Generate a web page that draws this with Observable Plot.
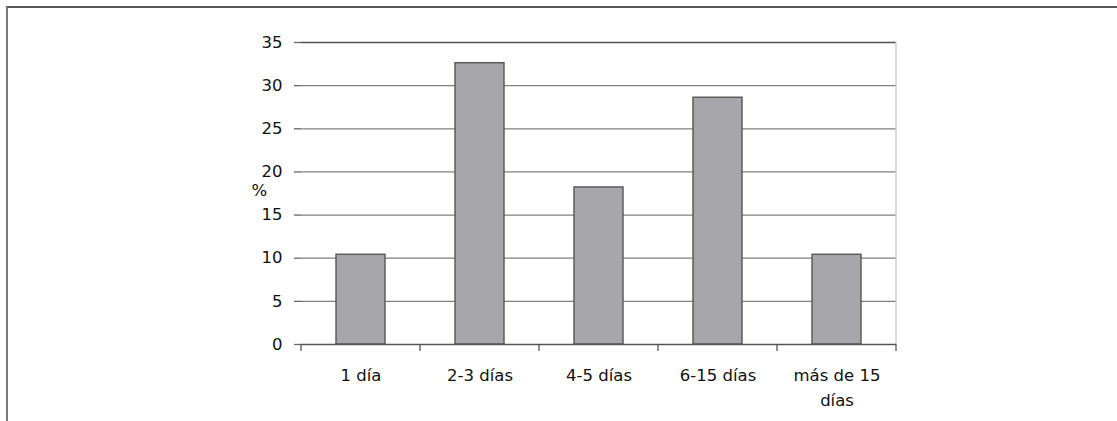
<!DOCTYPE html>
<html>
<head>
<meta charset="utf-8">
<script src="https://cdn.jsdelivr.net/npm/d3@7"></script>
<script src="https://cdn.jsdelivr.net/npm/@observablehq/plot@0.6"></script>
<style>
  html, body { margin: 0; padding: 0; background: #fff; }
  #wrap { position: relative; width: 1117px; height: 421px; overflow: hidden; }
  #border { position: absolute; left: 6px; top: 6px; width: 1120px; height: 430px;
            border-left: 2px solid #7a7a7a; border-top: 2px solid #5a5a5a; pointer-events: none; }
</style>
</head>
<body>
<div id="wrap"><div id="border"></div></div>
<script>
const categories = ["1 día", "2-3 días", "4-5 días", "6-15 días", "más de 15\ndías"];
const percents = [10.4, 32.6, 18.2, 28.6, 10.4];
const yTicks = [0, 5, 10, 15, 20, 25, 30, 35];
const yLabel = "%";

const data = categories.map((c, i) => ({cat: c, value: percents[i]}));
const font = "DejaVu Sans, Liberation Sans, Arial, sans-serif";

const boundaries = (index, scales) => {
  const x = scales.x, y = scales.y;
  const step = x.step(), off = (x.bandwidth() - step) / 2;
  const edges = categories.map(c => x(c) + off);
  edges.push(edges[edges.length - 1] + step);
  const g = d3.create("svg:g");
  g.selectAll("line.t").data(edges).join("line")
    .attr("x1", d => d).attr("x2", d => d)
    .attr("y1", y(0)).attr("y2", y(0) + 7)
    .attr("stroke", "#555").attr("stroke-width", 1.3);
  const last = edges[edges.length - 1];
  g.append("line")
    .attr("x1", last).attr("x2", last)
    .attr("y1", y(d3.max(yTicks))).attr("y2", y(0))
    .attr("stroke", "#c8c8c8").attr("stroke-width", 1.3);
  return g.node();
};

const chart = Plot.plot({
  width: 1117,
  height: 421,
  marginLeft: 301,
  marginRight: 221,
  marginTop: 42,
  marginBottom: 77,
  style: {fontFamily: font, fontSize: "16px", color: "#111", background: "transparent"},
  x: {domain: categories, paddingInner: 0.588, paddingOuter: 0.294},
  y: {domain: [0, 35]},
  marks: [
    Plot.ruleY(yTicks.filter(t => t > 0 && t < 35), {stroke: "#808080", strokeWidth: 1.3}),
    Plot.ruleY([35], {stroke: "#555", strokeWidth: 1.5}),
    Plot.barY(data, {x: "cat", y: "value", fill: "#a7a7ab", stroke: "#555", strokeWidth: 1.4}),
    Plot.ruleY([0], {stroke: "#555", strokeWidth: 1.5}),
    Plot.ruleX([0], {x: () => null, frameAnchor: "left", y1: 0, y2: 35, stroke: "#666", strokeWidth: 1.5}),
    Plot.axisY({ticks: yTicks, tickSize: 7, tickPadding: 12, tickFormat: d => d, label: null,
                stroke: "#666", strokeWidth: 1.3, fontSize: 16.5, fill: "#111"}),
    Plot.axisX({tickSize: 0, tickPadding: 19, label: null, lineHeight: 1.5,
                fontSize: 16.5, fill: "#111"}),
    boundaries,
    Plot.text([yLabel], {frameAnchor: "left", dx: -50, dy: -3, text: d => d, fontSize: 16.5, fill: "#111"})
  ]
});
document.getElementById("wrap").prepend(chart);
</script>
</body>
</html>
